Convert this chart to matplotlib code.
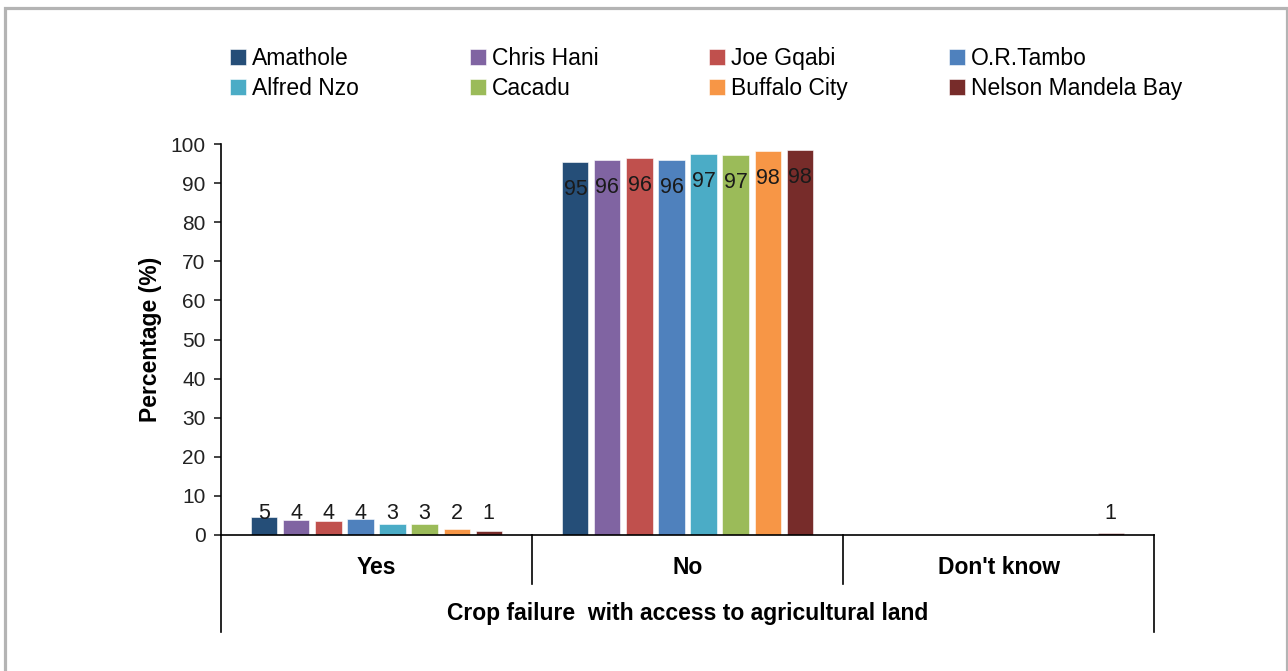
import matplotlib.pyplot as plt
import matplotlib.patches as mpatches
import numpy as np

plt.rcParams['font.family'] = ['Liberation Sans', 'DejaVu Sans']

groups = ["Yes", "No", "Don't know"]
districts = ["Amathole", "Chris Hani", "Joe Gqabi", "O.R.Tambo",
             "Alfred Nzo", "Cacadu", "Buffalo City", "Nelson Mandela Bay"]
colors = ["#254E78", "#8064A2", "#C0504D", "#4F81BD",
          "#4BACC6", "#9BBB59", "#F79646", "#772C2A"]

# percentages per district: Yes, No, Don't know
amathole = [4.6, 95.4, 0]
chris_hani = [3.8, 96.0, 0]
joe_gqabi = [3.6, 96.3, 0]
or_tambo = [4.0, 96.0, 0]
alfred_nzo = [2.7, 97.4, 0]
cacadu = [2.7, 97.2, 0]
buffalo_city = [1.6, 98.1, 0]
nelson_mandela = [0.9, 98.4, 0.6]
values = [amathole, chris_hani, joe_gqabi, or_tambo,
          alfred_nzo, cacadu, buffalo_city, nelson_mandela]

fig = plt.figure(figsize=(12.88, 6.71), dpi=100)
ax = fig.add_axes([221 / 1288, 1 - 535 / 671, 933 / 1288, 391 / 671])

x = np.arange(len(groups))
slot = 0.103
width = 0.084
handles = []
for i, (name, vals, c) in enumerate(zip(districts, values, colors)):
    pos = x + (i - 3.5) * slot
    b = ax.bar(pos, vals, width, color=c, edgecolor='white', linewidth=0.4,
               label=name)
    handles.append(b)
    for px, v in zip(pos, vals):
        if v == 0:
            continue
        # big bars: label inside near the top, small bars: just above
        ty = v - 7 if v > 50 else 5.6
        ax.text(px, ty, f"{v:.0f}", ha='center', va='center', fontsize=15.5,
                color='#1a1a1a')

ax.set_xlim(-0.5, 2.5)
ax.set_ylim(0, 100)
ax.set_yticks(np.arange(0, 101, 10))
ax.tick_params(axis='y', direction='out', length=5, width=1.2, labelsize=15,
               pad=6, colors='#222222')
ax.tick_params(axis='x', length=0, labelbottom=False)
ax.spines['top'].set_visible(False)
ax.spines['right'].set_visible(False)
ax.spines['left'].set_linewidth(1.2)
ax.spines['bottom'].set_linewidth(1.2)
ax.set_ylabel("Percentage (%)", fontsize=16.5, fontweight='bold', labelpad=6)

# category axis with separators
tr = ax.get_xaxis_transform()
for sx in [0.5, 1.5]:
    ax.plot([sx, sx], [0, -0.125], color='black', lw=1.2, transform=tr,
            clip_on=False)
for sx in [-0.5, 2.5]:
    ax.plot([sx, sx], [0, -0.248], color='black', lw=1.2, transform=tr,
            clip_on=False)
for gx, g in zip(x, groups):
    ax.text(gx, -0.084, g, ha='center', va='center', fontsize=16.5,
            fontweight='bold', transform=tr)
ax.text(1.0, -0.202, "Crop failure  with access to agricultural land",
        ha='center', va='center', fontsize=16.5, fontweight='bold',
        transform=tr)

# legend: 4 columns of 2 rows
col_x = [230, 470, 709, 949]
for k in range(4):
    hs = [handles[k], handles[k + 4]]
    fig.legend(hs, [districts[k], districts[k + 4]],
               loc='upper left', bbox_to_anchor=(col_x[k] / 1288, 1 - 47 / 671),
               frameon=False, fontsize=16.5, handlelength=0.7,
               handleheight=0.7, handletextpad=0.25, labelspacing=0.3,
               borderpad=0, borderaxespad=0)

# outer border
fig.patches.append(mpatches.Rectangle((5 / 1288, -0.1), 1282 / 1288,
                                      1.1 - 8 / 671, transform=fig.transFigure,
                                      fill=False, edgecolor='#b4b4b4', lw=2.3))

fig.savefig("out.png", dpi=100)
